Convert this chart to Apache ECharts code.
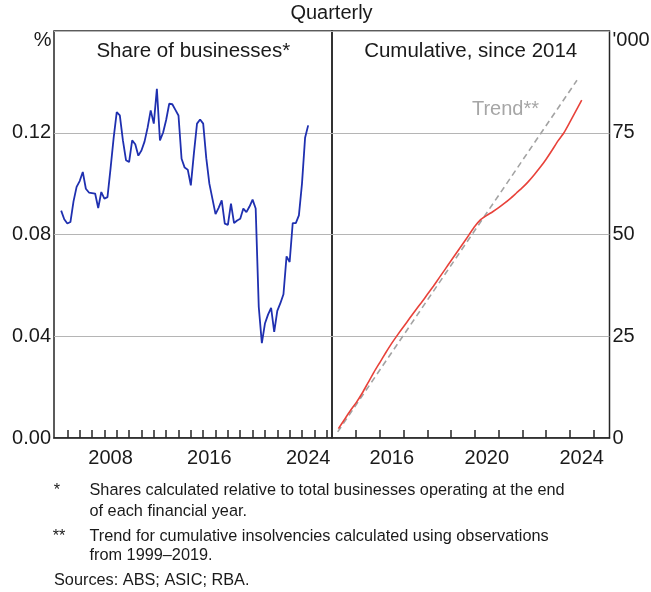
<!DOCTYPE html>
<html>
<head>
<meta charset="utf-8">
<script src="https://cdn.jsdelivr.net/npm/echarts@6/dist/echarts.min.js"></script>
<style>
html,body{margin:0;padding:0;background:#fff;}
#chart{width:651px;height:592px;}
</style>
</head>
<body>
<div id="chart"></div>
<script>
// ---- Data ----
const shareQuarters = [2004.50,2004.75,2005.00,2005.25,2005.50,2005.75,2006.00,2006.25,2006.50,2006.75,
  2007.00,2007.25,2007.50,2007.75,2008.00,2008.25,2008.50,2008.75,2009.00,2009.25,
  2009.50,2009.75,2010.00,2010.25,2010.50,2010.75,2011.00,2011.25,2011.50,2011.75,
  2012.00,2012.25,2012.50,2012.75,2013.00,2013.25,2013.50,2013.75,2014.00,2014.25,
  2014.50,2014.75,2015.00,2015.25,2015.50,2015.75,2016.00,2016.25,2016.50,2016.75,
  2017.00,2017.25,2017.50,2017.75,2018.00,2018.25,2018.50,2018.75,2019.00,2019.25,
  2019.50,2019.75,2020.00,2020.25,2020.50,2020.75,2021.00,2021.25,2021.50,2021.75,
  2022.00,2022.25,2022.50,2022.75,2023.00,2023.25,2023.50,2023.75,2024.00,2024.25,2024.50];
const shareValues = [0.0894,0.0860,0.0843,0.0849,0.0930,0.0987,0.1010,0.1046,0.0980,0.0965,
  0.0963,0.0961,0.0904,0.0967,0.0941,0.0947,0.1060,0.1180,0.1281,0.1268,
  0.1170,0.1092,0.1085,0.1170,0.1155,0.1110,0.1130,0.1165,0.1220,0.1288,
  0.1236,0.1373,0.1170,0.1200,0.1250,0.1314,0.1312,0.1290,0.1268,0.1098,
  0.1063,0.1055,0.0993,0.1120,0.1236,0.1252,0.1236,0.1100,0.1000,0.0940,
  0.0880,0.0905,0.0934,0.0843,0.0838,0.0921,0.0845,0.0855,0.0862,0.0902,
  0.0888,0.0910,0.0937,0.0902,0.0515,0.0373,0.0450,0.0485,0.0512,0.0417,
  0.0500,0.0530,0.0565,0.0714,0.0692,0.0845,0.0845,0.0875,0.1000,0.1180,0.1229];

const cumQuarters = [2014.25,2014.50,2014.75,2015.00,2015.25,2015.50,2015.75,2016.00,2016.25,2016.50,
  2016.75,2017.00,2017.25,2017.50,2017.75,2018.00,2018.25,2018.50,2018.75,2019.00,
  2019.25,2019.50,2019.75,2020.00,2020.25,2020.50,2020.75,2021.00,2021.25,2021.50,
  2021.75,2022.00,2022.25,2022.50,2022.75,2023.00,2023.25,2023.50,2023.75,2024.00,2024.25,2024.50];
const cumValues = [2.3,4.5,6.7,8.7,11.0,13.6,16.2,18.6,21.0,23.3,
  25.4,27.4,29.4,31.4,33.3,35.3,37.3,39.4,41.5,43.6,
  45.7,47.8,49.9,52.0,53.7,54.7,55.6,56.6,57.7,58.9,
  60.2,61.5,63.0,64.7,66.5,68.5,70.7,73.0,75.0,77.6,80.3,83.0];

const trendX = [2014.22, 2024.30];
const trendValues = [1.5, 87.9];

const leftYTicks = [0, 0.04, 0.08, 0.12, 0.16];
const rightYTicks = [0, 25, 50, 75, 100];
const leftYearTicks = [2005,2006,2007,2008,2009,2010,2011,2012,2013,2014,2015,2016,2017,2018,2019,2020,2021,2022,2023,2024,2025,2026];
const leftYearLabels = [2008, 2016, 2024];
const rightYearTicks = [2015,2016,2017,2018,2019,2020,2021,2022,2023,2024,2025];
const rightYearLabels = [2016, 2020, 2024];

const zip = (xs, ys) => xs.map((x, i) => [x, ys[i]]);

// ---- Chart ----
const FONT = '"Liberation Sans", Arial, sans-serif';
const TXT = '#1a1a1a';
const AX = '#262626';
const GRIDC = '#b5b5b5';

const chart = echarts.init(document.getElementById('chart'), null, {renderer: 'canvas'});

function xAxisCfg(gi, min, max, ticks, labels) {
  return {
    type: 'value', gridIndex: gi, min: min, max: max,
    axisLine: {show: true, onZero: false, lineStyle: {color: AX, width: 1.5}},
    axisTick: {show: true, inside: true, length: 8, customValues: ticks, lineStyle: {color: AX, width: 1.5}},
    axisLabel: {show: true, customValues: labels.map(v => v + 0.5), formatter: v => String(Math.floor(v)),
      fontSize: 20, color: TXT, fontFamily: FONT, margin: 10},
    splitLine: {show: false}
  };
}

const option = {
  animation: false,
  backgroundColor: '#fff',
  grid: [
    {left: 54, top: 31, width: 278, height: 407, show: true, borderColor: AX, borderWidth: 1.5, containLabel: false},
    {left: 332, top: 31, width: 277.5, height: 407, show: true, borderColor: AX, borderWidth: 1.5, containLabel: false}
  ],
  xAxis: [
    xAxisCfg(0, 2003.92, 2026.43, leftYearTicks, leftYearLabels),
    xAxisCfg(1, 2013.98, 2025.67, rightYearTicks, rightYearLabels)
  ],
  yAxis: [
    {type: 'value', gridIndex: 0, position: 'left', min: 0, max: 0.16,
      axisLine: {show: false}, axisTick: {show: false},
      axisLabel: {customValues: leftYTicks, formatter: v => (Math.abs(v - 0.16) < 1e-9 ? '' : v.toFixed(2)),
        fontSize: 20, color: TXT, fontFamily: FONT, margin: 3},
      splitLine: {show: true, lineStyle: {color: GRIDC, width: 1}}, interval: 0.04},
    {type: 'value', gridIndex: 1, position: 'right', min: 0, max: 100, interval: 25,
      axisLine: {show: false}, axisTick: {show: false},
      axisLabel: {customValues: rightYTicks, formatter: v => (v === 100 ? '' : String(v)),
        fontSize: 20, color: TXT, fontFamily: FONT, margin: 3},
      splitLine: {show: true, lineStyle: {color: GRIDC, width: 1}}}
  ],
  series: [
    {type: 'line', xAxisIndex: 0, yAxisIndex: 0, data: zip(shareQuarters, shareValues),
      showSymbol: false, lineStyle: {color: '#1f30b0', width: 1.8}, z: 5},
    {type: 'line', xAxisIndex: 1, yAxisIndex: 1, data: zip(trendX, trendValues),
      showSymbol: false, lineStyle: {color: '#a3a3a3', width: 1.6, type: [6, 4]}, z: 4},
    {type: 'line', xAxisIndex: 1, yAxisIndex: 1, data: zip(cumQuarters, cumValues),
      showSymbol: false, smooth: 0.2, lineStyle: {color: '#e8423a', width: 1.6}, z: 5}
  ],
  graphic: [
    {type: 'text', x: 331.5, y: 13, style: {text: 'Quarterly', font: '20px ' + FONT, fill: TXT, align: 'center', verticalAlign: 'middle'}},
    {type: 'text', x: 193.3, y: 51, style: {text: 'Share of businesses*', font: '20.5px ' + FONT, fill: TXT, align: 'center', verticalAlign: 'middle'}},
    {type: 'text', x: 470.7, y: 51, style: {text: 'Cumulative, since 2014', font: '20.5px ' + FONT, fill: TXT, align: 'center', verticalAlign: 'middle'}},
    {type: 'text', x: 51.5, y: 40, style: {text: '%', font: '20px ' + FONT, fill: TXT, align: 'right', verticalAlign: 'middle'}},
    {type: 'text', x: 612.5, y: 40, style: {text: "'000", font: '20px ' + FONT, fill: TXT, align: 'left', verticalAlign: 'middle'}},
    {type: 'text', x: 505.5, y: 109.5, style: {text: 'Trend**', font: '20px ' + FONT, fill: '#a6a6a6', align: 'center', verticalAlign: 'middle'}},
    {type: 'text', x: 57, y: 491, style: {text: '*', font: '16.3px ' + FONT, fill: TXT, align: 'center', verticalAlign: 'middle'}},
    {type: 'text', x: 89.5, y: 491, style: {text: 'Shares calculated relative to total businesses operating at the end', font: '16.3px ' + FONT, fill: TXT, verticalAlign: 'middle'}},
    {type: 'text', x: 89.5, y: 512, style: {text: 'of each financial year.', font: '16.3px ' + FONT, fill: TXT, verticalAlign: 'middle'}},
    {type: 'text', x: 59, y: 537, style: {text: '**', font: '16.3px ' + FONT, fill: TXT, align: 'center', verticalAlign: 'middle'}},
    {type: 'text', x: 89.5, y: 537, style: {text: 'Trend for cumulative insolvencies calculated using observations', font: '16.3px ' + FONT, fill: TXT, verticalAlign: 'middle'}},
    {type: 'text', x: 89.5, y: 556, style: {text: 'from 1999\u20132019.', font: '16.3px ' + FONT, fill: TXT, verticalAlign: 'middle'}},
    {type: 'text', x: 54, y: 581, style: {text: 'Sources: ABS; ASIC; RBA.', font: '16.3px ' + FONT, fill: TXT, verticalAlign: 'middle'}}
  ]
};
chart.setOption(option);
</script>
</body>
</html>
